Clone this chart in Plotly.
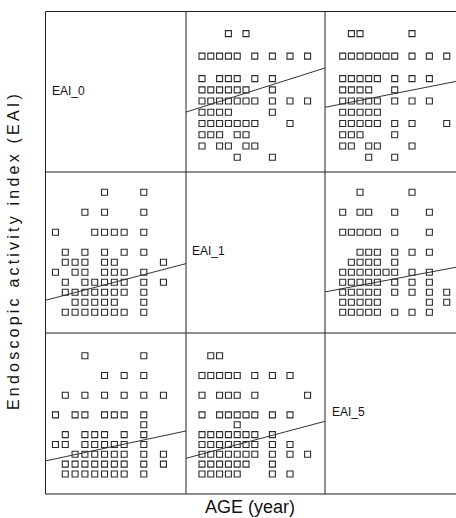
import plotly.graph_objects as go

W, H = 456, 518

variables = ["EAI_0", "EAI_1", "EAI_5"]

# Points per off-diagonal panel: {row-variable value: [column-variable values]}
# panel (row, col): y = variables[row], x = variables[col]
p01_rows = {12: [3, 5], 10: [0, 1, 2, 3, 4, 6, 8, 10, 12], 8: [0, 2, 3, 4, 6, 8],
            7: [0, 1, 2, 3, 4, 5, 8], 6: [0, 1, 2, 3, 4, 5, 6, 8, 10, 12], 5: [0, 1, 2, 3, 8],
            4: [0, 1, 2, 3, 4, 5, 6, 10], 3: [0, 1, 2, 4, 5], 2: [0, 2, 3, 5, 6], 1: [4, 8]}
p02_rows = {12: [1, 2, 8], 10: [0, 1, 2, 3, 4, 5, 6, 8, 10, 12], 8: [0, 1, 2, 3, 4, 6, 8, 10],
            7: [0, 1, 2, 3, 6], 6: [0, 1, 2, 3, 4, 6, 8, 10], 5: [0, 1, 2, 3, 4],
            4: [0, 1, 2, 3, 4, 6, 8, 12], 3: [0, 1, 2, 6], 2: [0, 1, 3, 4, 8], 1: [3, 6]}
p10_rows = {12: [6, 10], 10: [4, 6, 10], 8: [1, 5, 6, 7, 8, 10], 6: [2, 4, 6, 8, 10],
            5: [2, 3, 4, 6, 7, 12], 4: [1, 3, 4, 6, 7, 8, 10], 3: [2, 4, 5, 6, 7, 8, 10, 12],
            2: [2, 3, 4, 5, 6, 7, 8, 10], 1: [3, 4, 5, 6, 7, 10], 0: [2, 3, 4, 5, 6, 7, 8, 10]}
p12_rows = {12: [2, 8], 10: [0, 2, 3, 6, 10], 8: [0, 1, 2, 3, 4, 6, 10], 6: [2, 3, 4, 6, 8, 10],
            5: [1, 2, 3, 4, 6], 4: [0, 1, 2, 3, 4, 5, 6, 8, 10], 3: [0, 1, 2, 3, 4, 6, 8, 10],
            2: [0, 1, 2, 3, 4, 6, 8, 10, 12], 1: [0, 1, 2, 3, 4, 10, 12], 0: [0, 1, 2, 3, 4, 6, 8, 10]}
p20_rows = {12: [4, 10], 10: [6, 8, 10], 8: [2, 4, 6, 8, 10, 12], 6: [1, 3, 4, 6, 7, 8, 10],
            5: [10], 4: [2, 4, 5, 6, 8, 10], 3: [1, 2, 4, 5, 6, 7, 8, 10],
            2: [3, 4, 5, 6, 7, 8, 10, 12], 1: [2, 3, 4, 5, 6, 7, 8, 10, 12], 0: [2, 3, 4, 5, 6, 7, 8, 10]}
p21_rows = {12: [1, 2], 10: [0, 1, 2, 3, 4, 6, 8, 10], 8: [0, 2, 3, 4, 6, 12],
            6: [0, 2, 3, 4, 5, 6, 8, 10], 5: [4], 4: [0, 1, 2, 3, 4, 5, 6, 8],
            3: [0, 1, 2, 3, 4, 5, 6, 8, 10], 2: [0, 1, 2, 3, 4, 5, 6, 8, 10, 12],
            1: [0, 1, 2, 3, 4, 5, 8], 0: [0, 1, 2, 3, 4, 8, 10]}

panel_rows = {(0, 1): p01_rows, (0, 2): p02_rows, (1, 0): p10_rows,
              (1, 2): p12_rows, (2, 0): p20_rows, (2, 1): p21_rows}

# Fitted regression lines: (intercept, slope)
fit_intercept = {(0, 1): 5.47, (0, 2): 5.757, (1, 0): 1.208, (1, 2): 2.374, (2, 0): 1.332, (2, 1): 2.026}
fit_slope = {(0, 1): 0.2487, (0, 2): 0.1524, (1, 0): 0.256, (1, 2): 0.163, (2, 0): 0.2126, (2, 1): 0.2378}

x_title = "AGE (year)"
y_title = "Endoscopic activity index (EAI)"

# axis ranges per variable
x_ranges = {0: [-0.015, 14.30], 1: [-1.818, 13.977], 2: [-2.04, 13.07]}
y_ranges = {0: [-0.3125, 13.97], 1: [-2.07, 14.03], 2: [-2.03, 14.315]}

# panel geometry in pixels
col_px = [(45.5, 186), (186, 325), (325, 456)]
row_px = [(11.5, 172), (172, 333), (333, 494)]


def fx(px):
    return px / W


def fy(py):
    return 1 - py / H


def spaced(s, sep="\u2009"):
    return sep.join(s)


fig = go.Figure()
layout = {}
k = 0
for (r, c), rows in panel_rows.items():
    k += 1
    xs, ys = [], []
    for yv, xvals in rows.items():
        for xv in xvals:
            xs.append(xv)
            ys.append(yv)
    xa = "x" if k == 1 else f"x{k}"
    ya = "y" if k == 1 else f"y{k}"
    fig.add_trace(go.Scatter(
        x=xs, y=ys, mode="markers", xaxis=xa, yaxis=ya, showlegend=False,
        marker=dict(symbol="square-open", size=6, color="#2b2b2b", line=dict(width=1.1, color="#2b2b2b")),
        cliponaxis=True, hoverinfo="skip"))
    x0, x1 = x_ranges[c]
    b0, b1 = fit_intercept[(r, c)], fit_slope[(r, c)]
    fig.add_trace(go.Scatter(
        x=[x0, x1], y=[b0 + b1 * x0, b0 + b1 * x1], mode="lines", xaxis=xa, yaxis=ya,
        showlegend=False, line=dict(color="#333333", width=1), hoverinfo="skip"))
    kx = "xaxis" if k == 1 else f"xaxis{k}"
    ky = "yaxis" if k == 1 else f"yaxis{k}"
    layout[kx] = dict(domain=[fx(col_px[c][0]), fx(col_px[c][1])], range=x_ranges[c],
                      anchor=ya, showgrid=False, zeroline=False, showline=False,
                      showticklabels=False, ticks="")
    layout[ky] = dict(domain=[fy(row_px[r][1]), fy(row_px[r][0])], range=y_ranges[r],
                      anchor=xa, showgrid=False, zeroline=False, showline=False,
                      showticklabels=False, ticks="")

shapes = []
line_style = dict(color="#222222", width=1)
for xv in [45.5, 186, 325]:
    shapes.append(dict(type="line", xref="paper", yref="paper", x0=fx(xv), x1=fx(xv),
                       y0=fy(11.5), y1=fy(494), line=line_style))
for yv in [11.5, 172, 333, 494]:
    shapes.append(dict(type="line", xref="paper", yref="paper", x0=fx(45.5), x1=1,
                       y0=fy(yv), y1=fy(yv), line=line_style))

label_pos = [(50, 91), (190, 251), (330, 412)]
annotations = []
for name, (lx, ly) in zip(variables, label_pos):
    annotations.append(dict(text=name, x=fx(lx), y=fy(ly), xref="paper", yref="paper",
                            xanchor="left", yanchor="middle", showarrow=False,
                            font=dict(family="Liberation Sans, Arial", size=12, color="#111")))
annotations.append(dict(text=x_title, x=fx(250.5), y=fy(507), xref="paper", yref="paper",
                        xanchor="center", yanchor="middle", showarrow=False,
                        font=dict(family="Liberation Sans, Arial", size=18, color="#111")))
annotations.append(dict(text=spaced(y_title), x=fx(13), y=fy(252),
                        xref="paper", yref="paper", xanchor="center", yanchor="middle",
                        showarrow=False, textangle=-90,
                        font=dict(family="Liberation Sans, Arial", size=16, color="#111")))

fig.update_layout(width=W, height=H, margin=dict(l=0, r=0, t=0, b=0),
                  paper_bgcolor="white", plot_bgcolor="rgba(0,0,0,0)",
                  shapes=shapes, annotations=annotations, **layout)
fig.write_html("out.html", config={"displayModeBar": False},
               post_script="document.body.style.margin='0';document.body.style.overflow='hidden';")
